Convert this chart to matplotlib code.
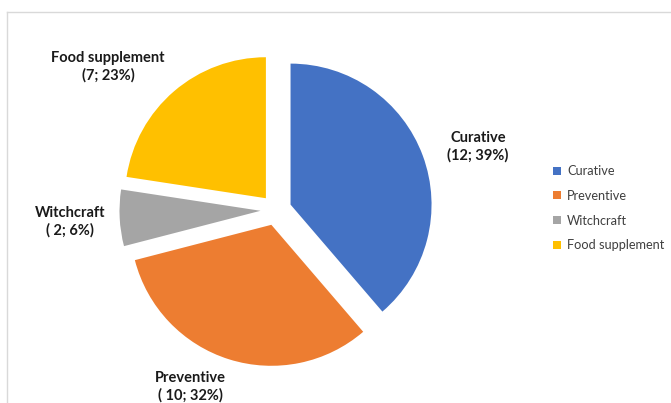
import matplotlib
matplotlib.use("Agg")
import matplotlib.pyplot as plt
from matplotlib.lines import Line2D
from matplotlib.patches import Patch

# data
categories = ["Curative", "Preventive", "Witchcraft", "Food supplement"]
counts = [12, 10, 2, 7]
pct_labels = ["39%", "32%", "6%", "23%"]
colors = ["#4472C4", "#ED7D31", "#A5A5A5", "#FFC000"]

plt.rcParams['font.family'] = ['Lato', 'DejaVu Sans']

W, H = 671, 403
fig = plt.figure(figsize=(W / 100, H / 100), dpi=100)

# pie centre / radius in pixels
cx, cy, R = 276, 210, 141
half = 1.5
ax = fig.add_axes([(cx - half * R) / W, (H - cy - half * R) / H,
                   2 * half * R / W, 2 * half * R / H])
ax.set_xlim(-half, half)
ax.set_ylim(-half, half)
ax.axis("off")

wedges, _ = ax.pie(counts, colors=colors, startangle=90, counterclock=False,
                   explode=[0.11, 0.11, 0.11, 0.11], radius=1.0,
                   wedgeprops=dict(linewidth=0), frame=False)
ax.set_xlim(-half, half)
ax.set_ylim(-half, half)
for w in wedges:
    w.set_clip_on(False)

# data labels (pixel positions of label centres)
label_pos = [(478, 147), (190, 387), (70, 222), (108, 67)]
for name, n, p, (px, py) in zip(categories, counts, pct_labels, label_pos):
    if name == "Curative" or name == "Food supplement":
        txt = f"{name}\n({n}; {p})"
    else:
        txt = f"{name}\n( {n}; {p})"
    ax.text((px - cx) / R, (cy - py) / R, txt, ha="center", va="center",
            fontsize=10.5, fontweight="bold", color="#1a1a1a",
            linespacing=1.25, clip_on=False)

# legend
handles = [Patch(facecolor=c, edgecolor="none") for c in colors]
fig.legend(handles, categories, loc="upper left",
           bbox_to_anchor=(548 / W, 1 - 160 / H), frameon=False,
           fontsize=9.2, labelcolor="#404040", handlelength=0.6,
           handleheight=0.6, handletextpad=0.5, labelspacing=1.0,
           borderaxespad=0)

# chart area border (only top and left visible)
fig.add_artist(Line2D([7 / W, 1.0], [1 - 12 / H, 1 - 12 / H],
                      transform=fig.transFigure, color="#D9D9D9", lw=1))
fig.add_artist(Line2D([7 / W, 7 / W], [0, 1 - 12 / H],
                      transform=fig.transFigure, color="#D9D9D9", lw=1))

fig.savefig("out.png", dpi=100, facecolor="white")
